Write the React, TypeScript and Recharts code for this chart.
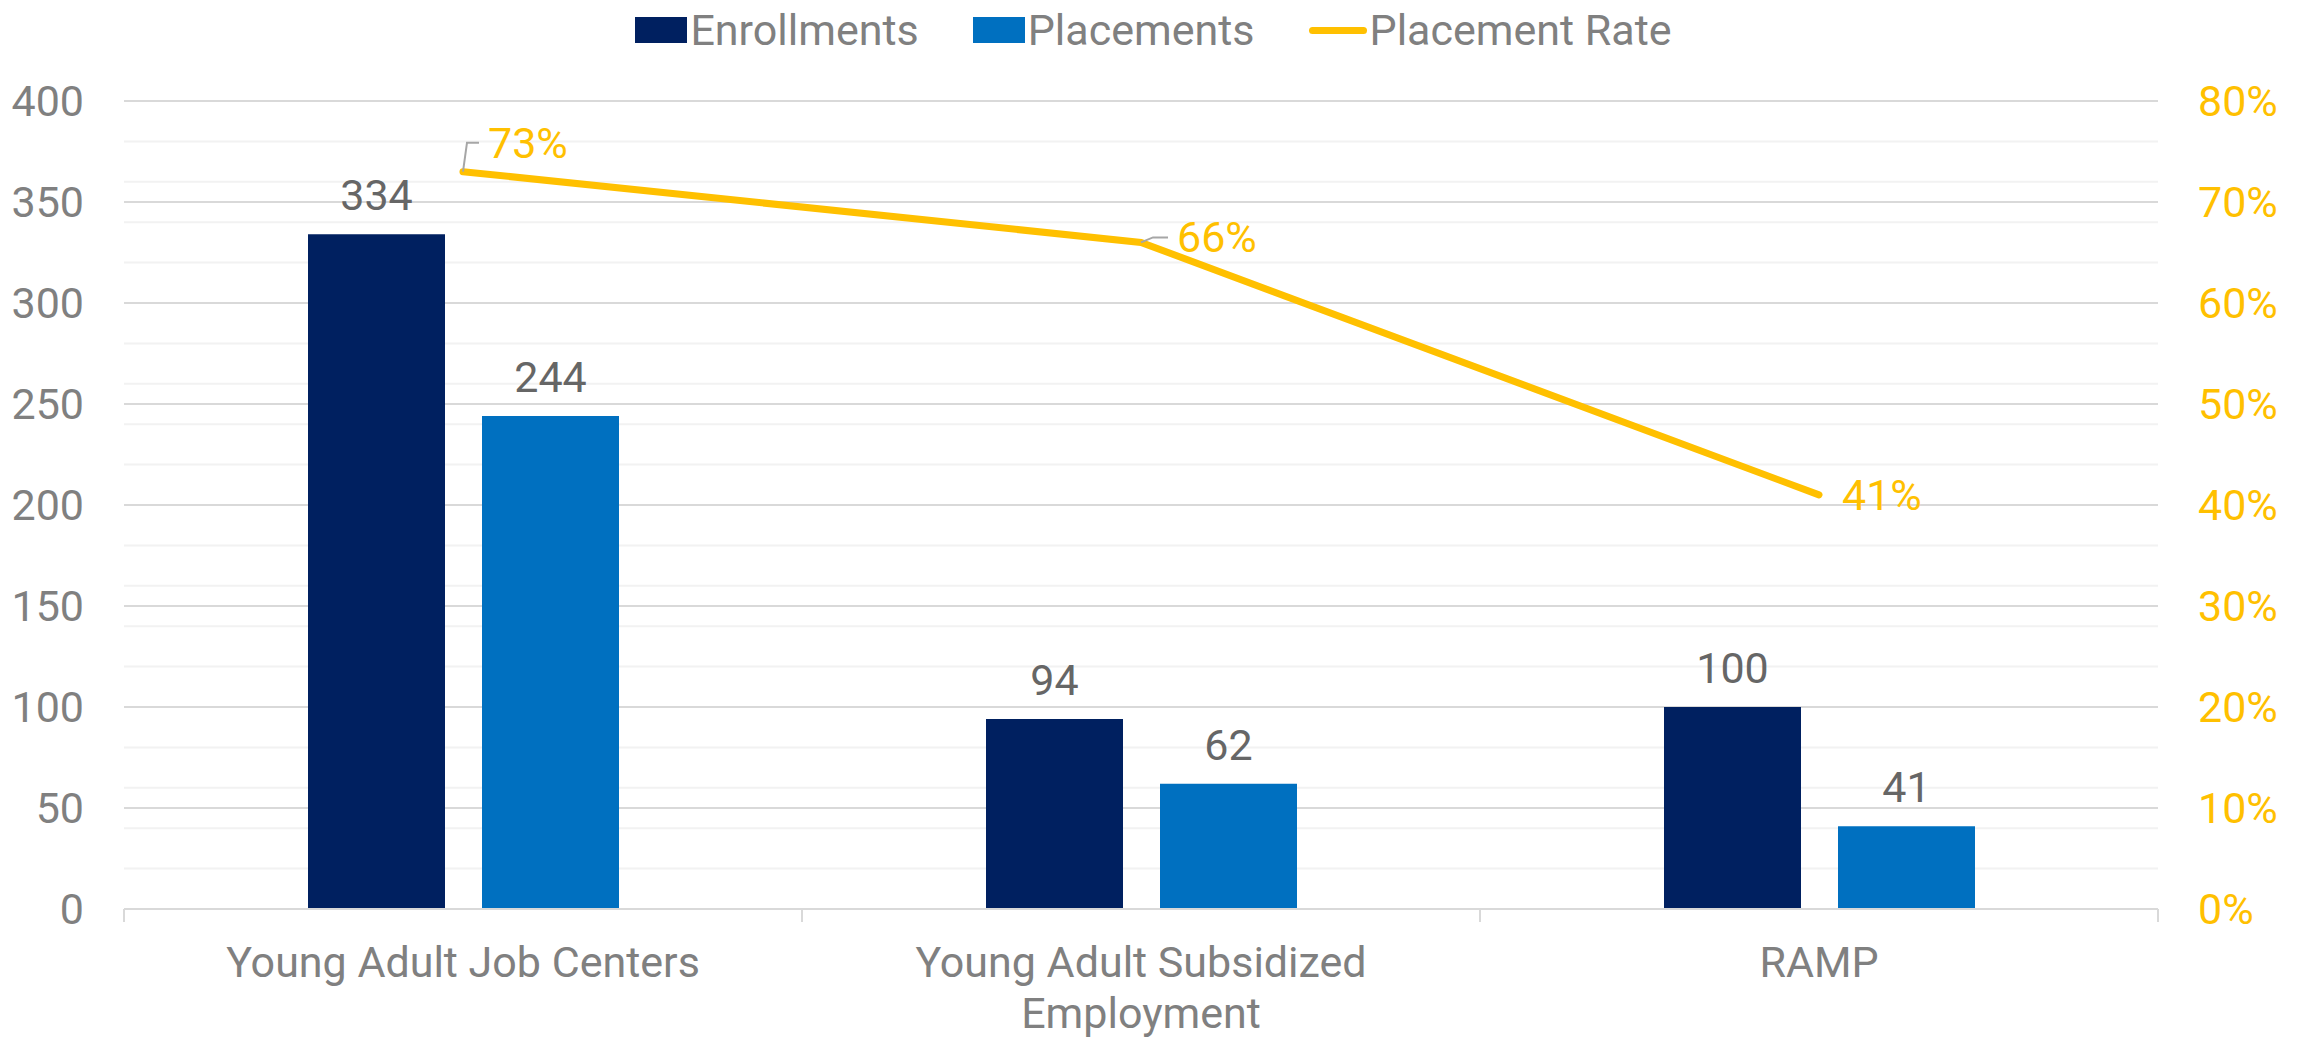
import { ComposedChart, Bar, Line, XAxis, YAxis, CartesianGrid, LabelList } from "recharts";

const categories = ["Young Adult Job Centers", "Young Adult Subsidized Employment", "RAMP"];
const enrollments = [334, 94, 100];
const placements = [244, 62, 41];
const placementRate = [0.73, 0.66, 0.41];

const countTicks = [0, 50, 100, 150, 200, 250, 300, 350, 400];
const rateTicks = [0, 0.1, 0.2, 0.3, 0.4, 0.5, 0.6, 0.7, 0.8];

const seriesNames = { enrollments: "Enrollments", placements: "Placements", rate: "Placement Rate" };

const data = categories.map((name, i) => ({
  name,
  enrollments: enrollments[i],
  placements: placements[i],
  rate: placementRate[i],
}));

// layout
const W = 2307;
const H = 1038;
const PLOT_LEFT = 124;
const PLOT_RIGHT = 2158;
const PLOT_TOP = 101;
const PLOT_BOTTOM = 909;
const BAND = (PLOT_RIGHT - PLOT_LEFT) / categories.length;

const NAVY = "#002060";
const BLUE = "#0070C0";
const GOLD = "#FFC000";
const GREY = "#808080";
const LABEL_GREY = "#666666";
const FONT = "Roboto, 'Noto Sans', sans-serif";
const FS = 43;

const minorGrid = Array.from({ length: 41 }, (_, i) => i * 10);

const pct = (v: number) => `${Math.round(v * 100)}%`;

// greedy word wrap, measured with a canvas
let measureCtx: CanvasRenderingContext2D | null = null;
function wrapWords(str: string, maxWidth: number) {
  if (!measureCtx) measureCtx = document.createElement("canvas").getContext("2d");
  const ctx = measureCtx!;
  ctx.font = `${FS}px Roboto`;
  const lines: string[] = [];
  let cur = "";
  for (const w of str.split(" ")) {
    const next = cur ? cur + " " + w : w;
    if (cur && ctx.measureText(next).width > maxWidth) {
      lines.push(cur);
      cur = w;
    } else {
      cur = next;
    }
  }
  if (cur) lines.push(cur);
  return lines;
}

function CategoryTick(props: any) {
  const { x, y, payload, index } = props;
  const half = BAND / 2;
  const lines = wrapWords(String(payload.value), 560);
  return (
    <g>
      <line x1={x - half} x2={x - half} y1={y} y2={y + 13} stroke="#D9D9D9" strokeWidth={2} />
      {index === categories.length - 1 && (
        <line x1={x + half} x2={x + half} y1={y} y2={y + 13} stroke="#D9D9D9" strokeWidth={2} />
      )}
      <text x={x} y={y + 68} textAnchor="middle" fill={GREY} fontSize={FS} fontFamily={FONT}>
        {lines.map((l, i) => (
          <tspan key={i} x={x} dy={i === 0 ? 0 : 51}>
            {l}
          </tspan>
        ))}
      </text>
    </g>
  );
}

// where each rate label sits relative to its point, plus optional leader line
const rateLabelNudge = [
  { dx: 25, dy: -14, leader: [4, -29, 16, -29] },
  { dx: 36, dy: 10, leader: [12, -5, 27, -5] },
  { dx: 23, dy: 15, leader: null },
];

function RateLabel(props: any) {
  const { x, y, value, index } = props;
  const n = rateLabelNudge[index];
  return (
    <g>
      {n.leader && (
        <polyline
          points={`${x},${y} ${x + n.leader[0]},${y + n.leader[1]} ${x + n.leader[2]},${y + n.leader[3]}`}
          fill="none"
          stroke="#A6A6A6"
          strokeWidth={2}
        />
      )}
      <text x={x + n.dx} y={y + n.dy} fill={GOLD} fontSize={FS} fontFamily={FONT}>
        {pct(value)}
      </text>
    </g>
  );
}

function ChartLegend() {
  const item = (icon: any, label: string) => (
    <div style={{ display: "flex", alignItems: "center" }}>
      {icon}
      <span style={{ marginLeft: 3, color: GREY, fontSize: FS, fontFamily: FONT, lineHeight: "48px" }}>{label}</span>
    </div>
  );
  return (
    <div
      style={{
        position: "absolute",
        top: 6,
        left: 0,
        width: W,
        display: "flex",
        justifyContent: "center",
        gap: 54,
      }}
    >
      {item(<div style={{ width: 52, height: 26, background: NAVY }} />, seriesNames.enrollments)}
      {item(<div style={{ width: 52, height: 26, background: BLUE }} />, seriesNames.placements)}
      {item(<div style={{ width: 58, height: 7, borderRadius: 4, background: GOLD }} />, seriesNames.rate)}
    </div>
  );
}

export default function App() {
  return (
    <div style={{ position: "absolute", left: 0, top: 0, width: W, height: H, background: "#fff" }}>
      <ChartLegend />
      <ComposedChart
        width={W}
        height={H}
        data={data}
        margin={{ top: PLOT_TOP, right: 0, bottom: 0, left: 0 }}
        barGap={37}
        style={{ fontFamily: FONT }}
      >
        <CartesianGrid yAxisId="left" vertical={false} horizontalValues={minorGrid} stroke="#F2F2F2" strokeWidth={2} />
        <CartesianGrid yAxisId="left" vertical={false} horizontalValues={countTicks} stroke="#D9D9D9" strokeWidth={2} />
        <XAxis
          dataKey="name"
          height={H - PLOT_BOTTOM}
          axisLine={{ stroke: "#D9D9D9", strokeWidth: 2 }}
          tickLine={false}
          tickSize={0}
          tickMargin={0}
          interval={0}
          tick={<CategoryTick />}
        />
        <YAxis
          yAxisId="left"
          width={PLOT_LEFT}
          domain={[0, 400]}
          ticks={countTicks}
          axisLine={false}
          tickLine={false}
          tickSize={0}
          tickMargin={40}
          tick={{ fill: GREY, fontSize: FS }}
        />
        <YAxis
          yAxisId="right"
          orientation="right"
          width={W - PLOT_RIGHT}
          domain={[0, 0.8]}
          ticks={rateTicks}
          tickFormatter={pct}
          axisLine={false}
          tickLine={false}
          tickSize={0}
          tickMargin={40}
          tick={{ fill: GOLD, fontSize: FS }}
        />
        <Bar yAxisId="left" dataKey="enrollments" name={seriesNames.enrollments} fill={NAVY} barSize={137} isAnimationActive={false}>
          <LabelList dataKey="enrollments" position="top" offset={24} fill={LABEL_GREY} fontSize={FS} />
        </Bar>
        <Bar yAxisId="left" dataKey="placements" name={seriesNames.placements} fill={BLUE} barSize={137} isAnimationActive={false}>
          <LabelList dataKey="placements" position="top" offset={24} fill={LABEL_GREY} fontSize={FS} />
        </Bar>
        <Line
          yAxisId="right"
          dataKey="rate"
          name={seriesNames.rate}
          stroke={GOLD}
          strokeWidth={7}
          strokeLinecap="round"
          dot={false}
          activeDot={false}
          isAnimationActive={false}
        >
          <LabelList dataKey="rate" content={<RateLabel />} />
        </Line>
      </ComposedChart>
    </div>
  );
}
